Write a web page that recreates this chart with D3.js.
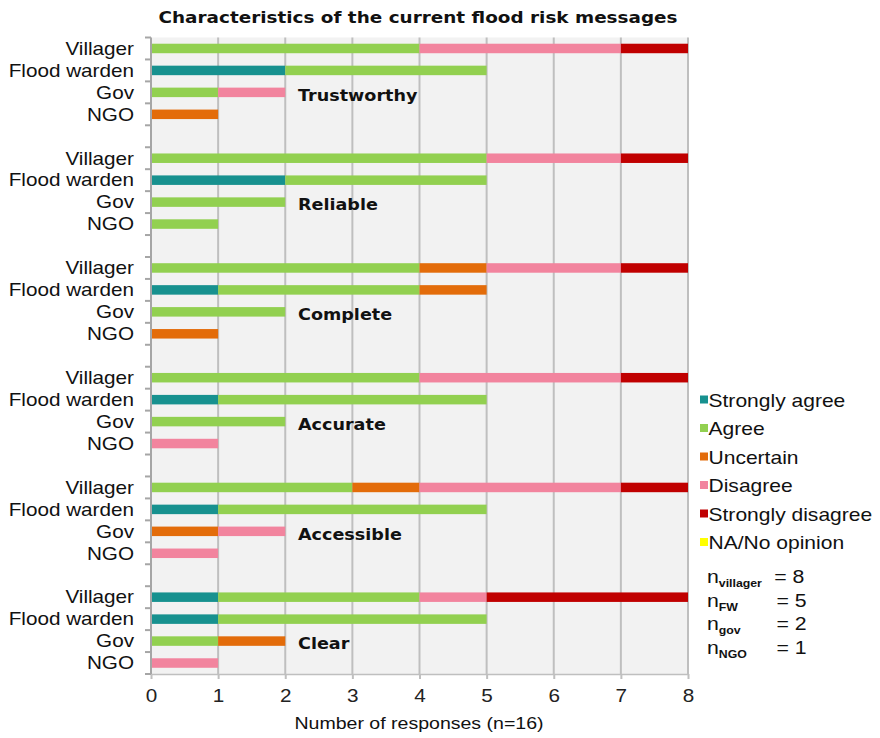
<!DOCTYPE html>
<html>
<head>
<meta charset="utf-8">
<script src="https://cdn.jsdelivr.net/npm/d3@7"></script>
<style>
  body{margin:0;background:#fff;}
  svg{display:block;}
</style>
</head>
<body>
<svg id="chart" width="880" height="738"></svg>
<script>
// categories
const groups = ['Trustworthy','Reliable','Complete','Accurate','Accessible','Clear'];
const respondents = ['Villager','Flood warden','Gov','NGO'];
const levels = ['Strongly agree','Agree','Uncertain','Disagree','Strongly disagree','NA/No opinion'];
const colors = ['#17918f','#92d050','#e36c0a','#f2849e','#c00000','#ffff00'];
const xTicks = [0,1,2,3,4,5,6,7,8];
const nLabels = [['villager','8'],['FW','5'],['gov','2'],['NGO','1']];

// values per level, ordered group by group: Villager, Flood warden, Gov, NGO
const stronglyAgree    = [0,2,0,0, 0,2,0,0, 0,1,0,0, 0,1,0,0, 0,1,0,0, 1,1,0,0];
const agree            = [4,3,1,0, 5,3,2,1, 4,3,2,0, 4,4,2,0, 3,4,0,0, 3,4,1,0];
const uncertain        = [0,0,0,1, 0,0,0,0, 1,1,0,1, 0,0,0,0, 1,0,1,0, 0,0,1,0];
const disagree         = [3,0,1,0, 2,0,0,0, 2,0,0,0, 3,0,0,1, 3,0,1,1, 1,0,0,1];
const stronglyDisagree = [1,0,0,0, 1,0,0,0, 1,0,0,0, 1,0,0,0, 1,0,0,0, 3,0,0,0];
const naOpinion        = [0,0,0,0, 0,0,0,0, 0,0,0,0, 0,0,0,0, 0,0,0,0, 0,0,0,0];
const series = [stronglyAgree, agree, uncertain, disagree, stronglyDisagree, naOpinion];

// rows: 4 per group + an empty row between groups
const rows = [];
const table = [];
groups.forEach((g,gi)=>{
  respondents.forEach((r,ri)=>{
    const key = g+'|'+r;
    rows.push(key);
    const rec = {key, group:g, resp:r};
    levels.forEach((l,li)=>{ rec[l] = series[li][gi*4+ri]; });
    table.push(rec);
  });
  if(gi < groups.length-1) rows.push('blank'+gi);
});

const SANS = 'Liberation Sans, Arial, sans-serif';
const BOLD = 'DejaVu Sans, Verdana, sans-serif';
const SX = 1.15; // the source picture is a bit wider than tall

// text placed at (px,py), stretched horizontally
function stretched(sel, px, py, sx){
  const k = sx || SX;
  return sel.attr('transform',(d,i)=>`translate(${typeof px==='function'?px(d,i):px},${typeof py==='function'?py(d,i):py}) scale(${k},1)`);
}

const svg = d3.select('#chart');
const x = d3.scaleLinear().domain([0,8]).range([151,688]);
const y = d3.scaleBand().domain(rows).range([37.5,674]);
const barH = 9.5;

// plot background
svg.append('rect').attr('x',x(0)).attr('y',y.range()[0])
  .attr('width',x(8)-x(0)).attr('height',y.range()[1]-y.range()[0])
  .attr('fill','#f2f2f2');

// vertical grid + x axis
const xAxis = svg.append('g').attr('transform',`translate(0,${y.range()[1]})`)
  .call(d3.axisBottom(x).tickValues(xTicks).tickSize(5).tickPadding(10).tickSizeOuter(0));
xAxis.select('.domain').attr('stroke','#bfbfbf').attr('stroke-width',1.5);
xAxis.selectAll('.tick line').attr('stroke','#bfbfbf').attr('stroke-width',2);
xAxis.selectAll('.tick text').attr('font-family',SANS)
  .attr('font-size',18).attr('fill','#222')
  .attr('transform',`scale(${SX},1)`).attr('x',0);

svg.append('g').selectAll('line').data(xTicks.slice(1)).enter().append('line')
  .attr('x1',d=>x(d)).attr('x2',d=>x(d))
  .attr('y1',y.range()[0]).attr('y2',y.range()[1])
  .attr('stroke','#bfbfbf').attr('stroke-width',2);

// stacked bars
const stack = d3.stack().keys(levels)(table);
svg.append('g').selectAll('g').data(stack).enter().append('g')
  .attr('fill',(d,i)=>colors[i])
  .selectAll('rect').data(d=>d.filter(s=>s[1]>s[0])).enter().append('rect')
  .attr('x',d=>x(d[0])).attr('width',d=>x(d[1])-x(d[0]))
  .attr('y',d=>y(d.data.key)+y.bandwidth()/2-barH/2).attr('height',barH);

// left axis with ticks between rows
const leftG = svg.append('g');
const edges = d3.range(rows.length+1).map(i=>y.range()[0]+i*y.bandwidth());
leftG.append('line').attr('x1',x(0)).attr('x2',x(0))
  .attr('y1',y.range()[0]).attr('y2',y.range()[1])
  .attr('stroke','#a6a6a6').attr('stroke-width',2);
leftG.selectAll('line.tk').data(edges).enter().append('line').attr('class','tk')
  .attr('x1',x(0)-6).attr('x2',x(0)).attr('y1',d=>d).attr('y2',d=>d)
  .attr('stroke','#a6a6a6').attr('stroke-width',2);

// respondent labels
stretched(svg.append('g').selectAll('text').data(table).enter().append('text'),
    134, d=>y(d.key)+y.bandwidth()/2)
  .attr('dy','0.35em').attr('text-anchor','end')
  .attr('font-family',SANS).attr('font-size',18)
  .attr('fill','#111').text(d=>d.resp);

// group labels on Gov row
stretched(svg.append('g').selectAll('text').data(groups).enter().append('text'),
    298, d=>y(d+'|Gov')+y.bandwidth()/2+3)
  .attr('dy','0.35em')
  .attr('font-family',BOLD).attr('font-weight','bold')
  .attr('font-size',15.3).attr('fill','#111').text(d=>d);

// title
stretched(svg.append('text'), 418, 23).attr('text-anchor','middle')
  .attr('font-family',BOLD).attr('font-weight','bold')
  .attr('font-size',16).attr('fill','#111')
  .text('Characteristics of the current flood risk messages');

// axis title
stretched(svg.append('text'), 419, 729).attr('text-anchor','middle')
  .attr('font-family',SANS).attr('font-size',17)
  .attr('fill','#111').text('Number of responses (n=16)');

// legend
const leg = svg.append('g').selectAll('g').data(levels).enter().append('g')
  .attr('transform',(d,i)=>`translate(700,${400+i*28.5})`);
leg.append('rect').attr('x',0).attr('y',-4.5).attr('width',8).attr('height',8)
  .attr('fill',(d,i)=>colors[i]);
stretched(leg.append('text'), 8.5, 0, 1.12).attr('dy','0.35em')
  .attr('font-family',SANS).attr('font-size',18.8)
  .attr('fill','#111').text(d=>d);

// sample sizes
const nt = stretched(svg.append('g').selectAll('text').data(nLabels).enter().append('text'),
    707, (d,i)=>583+i*23.5, 1.12)
  .attr('font-family',SANS).attr('font-size',19).attr('fill','#111');
nt.append('tspan').text('n');
nt.append('tspan').attr('dy',4).attr('font-size',11).attr('font-weight','bold').text(d=>d[0]);
nt.append('tspan').attr('x',(d,i)=>i===0?60:62).attr('dy',-4).text(d=>'= '+d[1]);
</script>
</body>
</html>
